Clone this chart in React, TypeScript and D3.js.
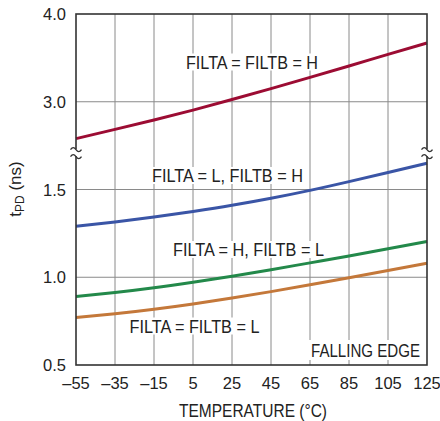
import React from "react";
import * as d3 from "d3";

const temps = [-55, -35, -15, 5, 25, 45, 65, 85, 105, 125];
const hh = [2.58, 2.685, 2.792, 2.905, 3.025, 3.15, 3.278, 3.408, 3.54, 3.67];
const lh = [1.29, 1.315, 1.343, 1.375, 1.41, 1.45, 1.495, 1.545, 1.597, 1.65];
const hl = [0.89, 0.913, 0.94, 0.972, 1.006, 1.043, 1.082, 1.121, 1.162, 1.204];
const ll = [0.77, 0.792, 0.818, 0.848, 0.882, 0.918, 0.957, 0.997, 1.038, 1.08];
const xTicks = [-55, -35, -15, 5, 25, 45, 65, 85, 105, 125];
const yTicks = [0.5, 1.0, 1.5, 3.0, 4.0];
const yTickLabels = ["0.5", "1.0", "1.5", "3.0", "4.0"];

const series = [
  { name: "FILTA = FILTB = H", values: hh, color: "#9c0c33" },
  { name: "FILTA = L, FILTB = H", values: lh, color: "#3a55a6" },
  { name: "FILTA = H, FILTB = L", values: hl, color: "#23894a" },
  { name: "FILTA = FILTB = L", values: ll, color: "#c4783a" },
];

// label layout: centre x, baseline y, rendered width (pixels)
const labels = [
  { text: "FILTA = FILTB = H", cx: 252, by: 68.5, w: 132 },
  { text: "FILTA = L, FILTB = H", cx: 227.5, by: 182, w: 151 },
  { text: "FILTA = H, FILTB = L", cx: 248.5, by: 256, w: 151 },
  { text: "FILTA = FILTB = L", cx: 194.5, by: 332.5, w: 130 },
];

const FONT = "'Liberation Sans', Arial, sans-serif";

export default function App() {
  const left = 76, right = 427, top = 14, bottom = 365;
  const x = d3.scaleLinear().domain([-55, 125]).range([left, right]);
  const q = (bottom - top) / 4;
  const y = d3
    .scaleLinear()
    .domain([0.5, 1.75, 2.5, 4.0])
    .range([bottom, top + 1.5 * q, top + 1.5 * q, top]);
  const line = d3
    .line<number>()
    .x((_, i) => x(temps[i]))
    .y((d) => y(d))
    .curve(d3.curveNatural);
  const breakY = top + 1.5 * q;
  const wave = (cx: number, cy: number) =>
    `M${cx - 5.5},${cy + 1} q2.75,-4 5.5,0 t5.5,0`;

  return (
    <svg
      width={440}
      height={421}
      style={{ position: "absolute", left: 0, top: 0, background: "#fff" }}
      fontFamily={FONT}
    >
      {xTicks.slice(1, -1).map((t) => (
        <line key={"vx" + t} x1={x(t)} x2={x(t)} y1={top} y2={bottom} stroke="#8a8a8a" strokeWidth={1} />
      ))}
      {[1.0, 1.5, 3.0].map((v) => (
        <line key={"hy" + v} x1={left} x2={right} y1={y(v)} y2={y(v)} stroke="#8a8a8a" strokeWidth={1} />
      ))}
      {labels.map((l) => (
        <rect key={"bg" + l.text} x={l.cx - l.w / 2 - 2} y={l.by - 15} width={l.w + 4} height={17} fill="#fff" />
      ))}
      <rect x={308} y={340} width={right - 308} height={20} fill="#fff" />
      {series.map((s) => (
        <path key={s.name} d={line(s.values) || ""} fill="none" stroke={s.color} strokeWidth={3} />
      ))}
      {labels.map((l) => (
        <text
          key={l.text}
          x={l.cx - l.w / 2}
          y={l.by}
          fontSize={18}
          fill="#222"
          textLength={l.w}
          lengthAdjust="spacingAndGlyphs"
        >
          {l.text}
        </text>
      ))}
      <text x={311} y={356.5} fontSize={18} fill="#222" textLength={109} lengthAdjust="spacingAndGlyphs">
        FALLING EDGE
      </text>
      <rect x={left} y={top} width={right - left} height={bottom - top} fill="none" stroke="#333" strokeWidth={1.6} />
      {[left, right].map((cx) => (
        <g key={"br" + cx}>
          <rect x={cx - 6} y={breakY + 3.5} width={12} height={7} fill="#fff" />
          <path d={wave(cx, breakY + 3)} fill="none" stroke="#333" strokeWidth={1.3} />
          <path d={wave(cx, breakY + 10)} fill="none" stroke="#333" strokeWidth={1.3} />
        </g>
      ))}
      {yTicks.map((v, i) => (
        <text key={"yt" + v} x={66} y={y(v) + 6} textAnchor="end" fontSize={16.5} fill="#222">
          {yTickLabels[i]}
        </text>
      ))}
      {xTicks.map((t) => (
        <text key={"xt" + t} x={x(t)} y={389} textAnchor="middle" fontSize={16.5} fill="#222">
          {t < 0 ? "\u2013" + Math.abs(t) : String(t)}
        </text>
      ))}
      <text x={179} y={417} fontSize={17.5} fill="#222" textLength={148} lengthAdjust="spacingAndGlyphs">
        TEMPERATURE (°C)
      </text>
      <text transform="translate(21,189) rotate(-90)" textAnchor="middle" fontSize={17} fill="#222">
        t<tspan fontSize={12} dy={3}>PD</tspan>
        <tspan dy={-3}> (ns)</tspan>
      </text>
    </svg>
  );
}
